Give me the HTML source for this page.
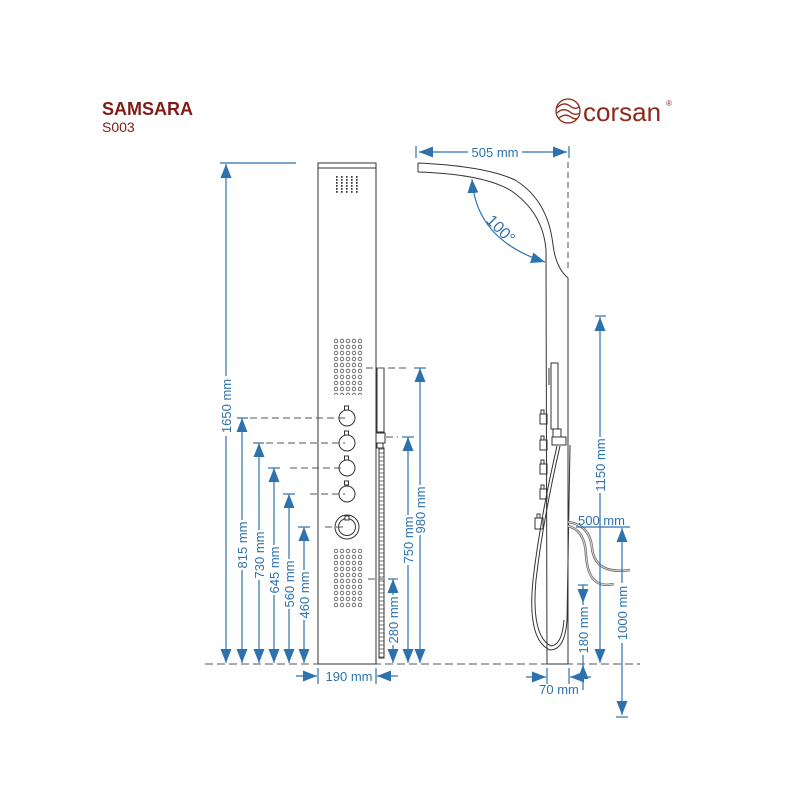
<!DOCTYPE html>
<html><head><meta charset="utf-8"><style>
html,body{margin:0;padding:0;background:#fff;}
svg{display:block;}
text{font-family:"Liberation Sans",sans-serif;}
</style></head><body>
<svg width="800" height="800" viewBox="0 0 800 800" xmlns="http://www.w3.org/2000/svg">
<defs>
<pattern id="dots" x="333" y="338" width="6" height="6" patternUnits="userSpaceOnUse">
<circle cx="3" cy="3" r="1.8" fill="none" stroke="#555" stroke-width="0.8"/>
</pattern>
<pattern id="jets" x="335" y="176" width="5" height="3" patternUnits="userSpaceOnUse">
<rect x="1" y="0" width="1.6" height="1.8" fill="#333"/>
</pattern>
<pattern id="hose" x="379" y="447" width="6" height="4" patternUnits="userSpaceOnUse">
<line x1="0" y1="2" x2="6" y2="2" stroke="#555" stroke-width="0.8"/>
</pattern>
<marker id="ah" viewBox="0 0 10 10" refX="10" refY="5" markerWidth="14" markerHeight="11" orient="auto-start-reverse" markerUnits="userSpaceOnUse" preserveAspectRatio="none">
<path d="M0,0 L10,5 L0,10 z" fill="#2e72ad"/>
</marker>
</defs>

<text x="102" y="115" font-size="18" font-weight="bold" fill="#7e1d17">SAMSARA</text>
<text x="102" y="132" font-size="14" fill="#7e1d17">S003</text>
<g fill="none" stroke="#8b2a1a" stroke-width="1.3">
<circle cx="568" cy="111" r="12"/>
<path d="M557,108 Q563,101 570,106 Q575,110 579,107"/>
<path d="M557,113 Q563,107 570,112 Q575,116 580,113"/>
<path d="M559,118 Q565,113 571,117 Q575,120 578,118"/>
</g>
<text x="583" y="121" font-size="26" fill="#8b2a1a">corsan</text>
<text x="666" y="106" font-size="8" fill="#8b2a1a">®</text>

<line x1="205" y1="664" x2="640" y2="664" stroke="#555" stroke-width="1" stroke-dasharray="8,4"/>

<g stroke="#333" stroke-width="1" fill="none">
<rect x="318" y="163" width="58" height="501"/>
<line x1="318" y1="168" x2="376" y2="168"/>
</g>
<rect x="335" y="176" width="25" height="18" fill="url(#jets)"/>
<rect x="333" y="338" width="30" height="57" fill="url(#dots)"/>
<rect x="333" y="548" width="30" height="60" fill="url(#dots)"/>
<g stroke="#333" stroke-width="1" fill="#fff">
<rect x="344.5" y="406" width="4" height="4"/><circle cx="347" cy="418" r="8"/>
<rect x="344.5" y="431" width="4" height="4"/><circle cx="347" cy="443" r="8"/>
<rect x="344.5" y="456" width="4" height="4"/><circle cx="347" cy="468" r="8"/>
<rect x="344.5" y="481" width="4" height="4"/><circle cx="347" cy="494" r="8"/>
<circle cx="347" cy="527" r="12"/><circle cx="347" cy="527" r="8.5"/>
<rect x="345" y="516" width="4" height="4"/>
</g>
<g stroke="#333" stroke-width="1" fill="none">
<rect x="377" y="368" width="7" height="64"/>
<rect x="376" y="433" width="9" height="10"/>
<rect x="377" y="443" width="6" height="5"/>
<rect x="379" y="448" width="5" height="210" fill="url(#hose)"/>
</g>

<g stroke="#555" stroke-width="1" stroke-dasharray="7,4" fill="none">
<line x1="250" y1="418" x2="345" y2="418"/>
<line x1="266" y1="443" x2="345" y2="443"/>
<line x1="290" y1="468" x2="345" y2="468"/>
<line x1="310" y1="494" x2="345" y2="494"/>
<line x1="325" y1="527" x2="345" y2="527"/>
<line x1="366" y1="368" x2="408" y2="368"/>
<line x1="386" y1="437" x2="398" y2="437"/>
<line x1="368" y1="579" x2="383" y2="579"/>
</g>

<g stroke="#2e72ad" stroke-width="1.2" fill="none" marker-start="url(#ah)" marker-end="url(#ah)">
<line x1="226" y1="164" x2="226" y2="663"/>
<line x1="242" y1="418" x2="242" y2="663"/>
<line x1="259" y1="443" x2="259" y2="663"/>
<line x1="274" y1="468" x2="274" y2="663"/>
<line x1="289" y1="494" x2="289" y2="663"/>
<line x1="304" y1="527" x2="304" y2="663"/>
<line x1="420" y1="368" x2="420" y2="663"/>
<line x1="408" y1="437" x2="408" y2="663"/>
<line x1="393" y1="579" x2="393" y2="663"/>
</g>
<g stroke="#2e72ad" stroke-width="1.2">
<line x1="220" y1="163" x2="296" y2="163"/>
<line x1="237" y1="418" x2="248" y2="418"/>
<line x1="253" y1="443" x2="264" y2="443"/>
<line x1="268" y1="468" x2="280" y2="468"/>
<line x1="283" y1="494" x2="295" y2="494"/>
<line x1="298" y1="527" x2="310" y2="527"/>
<line x1="414" y1="368" x2="426" y2="368"/>
<line x1="402" y1="437" x2="414" y2="437"/>
<line x1="388" y1="579" x2="398" y2="579"/>
<line x1="318" y1="668" x2="318" y2="684"/>
<line x1="376" y1="668" x2="376" y2="684"/>
</g>
<g stroke="#2e72ad" stroke-width="1.2" marker-end="url(#ah)">
<line x1="296" y1="676" x2="317" y2="676"/>
<line x1="398" y1="676" x2="377" y2="676"/>
</g>
<g font-size="13" fill="#2e72ad">
<rect x="218" y="376" width="16" height="60" fill="#fff"/>
<text transform="translate(231,406) rotate(-90)" text-anchor="middle">1650 mm</text>
<rect x="234" y="520" width="16" height="50" fill="#fff"/>
<text transform="translate(247,545) rotate(-90)" text-anchor="middle">815 mm</text>
<rect x="251" y="530" width="16" height="50" fill="#fff"/>
<text transform="translate(264,555) rotate(-90)" text-anchor="middle">730 mm</text>
<rect x="266" y="545" width="16" height="50" fill="#fff"/>
<text transform="translate(279,570) rotate(-90)" text-anchor="middle">645 mm</text>
<rect x="281" y="559" width="16" height="50" fill="#fff"/>
<text transform="translate(294,584) rotate(-90)" text-anchor="middle">560 mm</text>
<rect x="296" y="570" width="16" height="50" fill="#fff"/>
<text transform="translate(309,595) rotate(-90)" text-anchor="middle">460 mm</text>
<rect x="412" y="485" width="16" height="50" fill="#fff"/>
<text transform="translate(425,510) rotate(-90)" text-anchor="middle">980 mm</text>
<rect x="400" y="515" width="16" height="50" fill="#fff"/>
<text transform="translate(413,540) rotate(-90)" text-anchor="middle">750 mm</text>
<rect x="385" y="595" width="16" height="50" fill="#fff"/>
<text transform="translate(398,620) rotate(-90)" text-anchor="middle">280 mm</text>
<text x="349" y="681" text-anchor="middle">190 mm</text>
</g>

<g stroke="#333" stroke-width="1" fill="none">
<path d="M418,163 Q485,166 515,180 Q548,200 553,245 Q556,268 568,278 L568,664"/>
<path d="M418,172 Q482,174 510,190 Q543,212 546,250 L547,664"/>
<line x1="418" y1="163" x2="418" y2="172"/>
<line x1="547" y1="664" x2="568" y2="664"/>
<rect x="551" y="363" width="7" height="66"/>
<line x1="549" y1="368" x2="549" y2="385"/>
<rect x="553" y="429" width="8" height="8"/>
<rect x="552" y="437" width="14" height="8"/>
<rect x="540" y="414" width="7" height="10"/><rect x="541" y="410" width="3" height="4"/>
<rect x="540" y="440" width="7" height="10"/><rect x="541" y="436" width="3" height="4"/>
<rect x="540" y="464" width="7" height="10"/><rect x="541" y="460" width="3" height="4"/>
<rect x="540" y="489" width="7" height="10"/><rect x="541" y="485" width="3" height="4"/>
<rect x="535" y="518" width="8" height="11"/><rect x="537" y="514" width="3" height="4"/>
<path d="M557,446 Q540,520 533,580 Q527,640 550,650 Q565,650 567,620 L570,445"/>
<path d="M560,446 Q543,520 536,580 Q531,636 551,646 Q562,645 564,620"/>
<path d="M568,522 Q590,525 592,548 Q595,575 630,570" stroke-width="2.5" stroke="#666"/>
<path d="M568,526 Q585,530 586,555 Q588,590 614,584" stroke-width="2.5" stroke="#666"/>
<path d="M568,522 Q590,525 592,548 Q595,575 630,570" stroke-width="1" stroke="#ddd"/>
<path d="M568,526 Q585,530 586,555 Q588,590 614,584" stroke-width="1" stroke="#ddd"/>
</g>
<line x1="568" y1="162" x2="568" y2="270" stroke="#555" stroke-dasharray="6,4"/>

<g stroke="#2e72ad" stroke-width="1.2" fill="none" marker-start="url(#ah)" marker-end="url(#ah)">
<line x1="419" y1="152" x2="567" y2="152"/>
<line x1="600" y1="317" x2="600" y2="663"/>
<line x1="622" y1="528" x2="622" y2="715"/>
<path d="M472,179 Q476,240 545,262"/>
</g>
<g stroke="#2e72ad" stroke-width="1.2">
<line x1="416" y1="146" x2="416" y2="158"/>
<line x1="569" y1="146" x2="569" y2="158"/>
<line x1="595" y1="316" x2="606" y2="316"/>
<line x1="576" y1="527" x2="630" y2="527"/>
<line x1="616" y1="717" x2="628" y2="717"/>
<line x1="578" y1="585" x2="588" y2="585"/>
<line x1="583" y1="585" x2="583" y2="690"/>
<line x1="547" y1="668" x2="547" y2="684"/>
<line x1="569" y1="668" x2="569" y2="684"/>
</g>
<g stroke="#2e72ad" stroke-width="1.2" marker-end="url(#ah)">
<line x1="526" y1="677" x2="546" y2="677"/>
<line x1="591" y1="677" x2="570" y2="677"/>
<line x1="583" y1="587" x2="583" y2="603"/>
<line x1="583" y1="682" x2="583" y2="665"/>
</g>
<g font-size="13" fill="#2e72ad">
<rect x="468" y="144" width="54" height="15" fill="#fff"/>
<text x="495" y="157" text-anchor="middle">505 mm</text>
<text transform="translate(497,233) rotate(45)" text-anchor="middle" font-size="16">100°</text>
<rect x="592" y="437" width="16" height="56" fill="#fff"/>
<text transform="translate(605,465) rotate(-90)" text-anchor="middle">1150 mm</text>
<rect x="614" y="583" width="16" height="60" fill="#fff"/>
<text transform="translate(627,613) rotate(-90)" text-anchor="middle">1000 mm</text>
<text x="578" y="525">500 mm</text>
<rect x="575" y="605" width="16" height="50" fill="#fff"/>
<text transform="translate(588,630) rotate(-90)" text-anchor="middle">180 mm</text>
<text x="559" y="694" text-anchor="middle">70 mm</text>
</g>
</svg>
</body></html>
